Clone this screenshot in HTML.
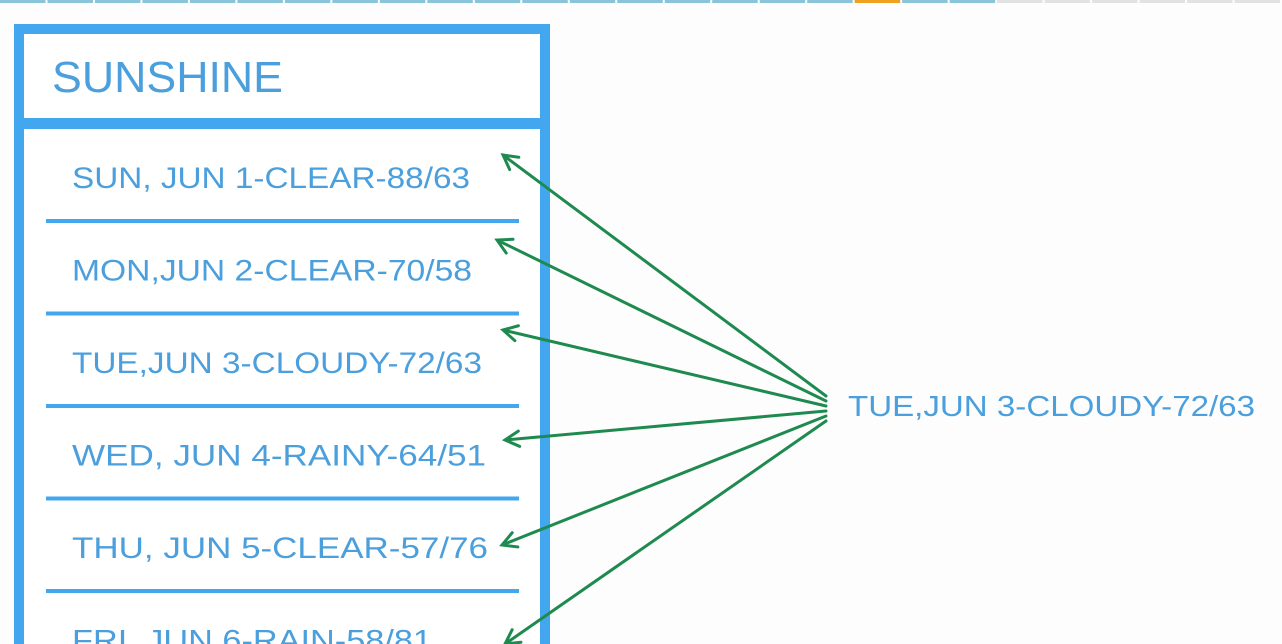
<!DOCTYPE html>
<html><head><meta charset="utf-8"><style>
html,body{margin:0;padding:0;background:#fdfdfd;width:1282px;height:644px;overflow:hidden}
svg{display:block}
text{font-family:"Liberation Sans",sans-serif;fill:#4a9fdc}
</style></head><body>
<svg width="1282" height="644" viewBox="0 0 1282 644">
<g id="progress"></g>
<rect x="19" y="29" width="526" height="640" fill="#fff" stroke="#42a7ee" stroke-width="10"/>
<rect x="19" y="118" width="526" height="11" fill="#42a7ee"/>
<text x="52" y="92" font-size="44" textLength="231" lengthAdjust="spacingAndGlyphs">SUNSHINE</text>
<g id="rows"></g>
<g id="arrows"></g>
<text x="848" y="416" font-size="29" textLength="407" lengthAdjust="spacingAndGlyphs">TUE,JUN 3-CLOUDY-72/63</text>
</svg>
<script>
const rowLabels=["SUN, JUN 1-CLEAR-88/63","MON,JUN 2-CLEAR-70/58","TUE,JUN 3-CLOUDY-72/63","WED, JUN 4-RAINY-64/51","THU, JUN 5-CLEAR-57/76","FRI, JUN 6-RAIN-58/81"];
const rowTextEnds=[470,472,482,486,488,432];
const totalSegments=27;
const doneSegments=21;
const currentSegment=18;
const NS="http://www.w3.org/2000/svg";
const prog=document.getElementById('progress');
for(let i=0;i<totalSegments;i++){
  const r=document.createElementNS(NS,'rect');
  const w=1282/totalSegments;
  r.setAttribute('x',i*w);r.setAttribute('y',0);r.setAttribute('width',w-2);r.setAttribute('height',3);
  r.setAttribute('fill',i===currentSegment?'#f0a020':(i<doneSegments?'#8ac4d8':'#e2e2e2'));
  
  
  prog.appendChild(r);
}
const tipX=[503,497,503,505,502,505];
const tipY=[155,240,330,440,545,644];
const rows=document.getElementById('rows'),arrows=document.getElementById('arrows');
const rowY=i=>188+i*92.5;
rowLabels.forEach((lab,i)=>{
  const t=document.createElementNS(NS,'text');
  t.setAttribute('x',72);t.setAttribute('y',rowY(i));t.setAttribute('font-size',30);
  t.setAttribute('textLength',rowTextEnds[i]-72);t.setAttribute('lengthAdjust','spacingAndGlyphs');
  t.textContent=lab;
  
  
  rows.appendChild(t);
  if(i<5){
    const l=document.createElementNS(NS,'rect');
    l.setAttribute('x',46);l.setAttribute('y',rowY(i)+31);l.setAttribute('width',473);l.setAttribute('height',4);l.setAttribute('fill','#42a7ee');
    
    
    rows.appendChild(l);
  }
  const tx=tipX[i], ty=tipY[i];
  const sy=396+i*5, sx=826;
  const g=document.createElementNS(NS,'g');
  
  
  const ang=Math.atan2(sy-ty,sx-tx);
  const hx1=tx+16*Math.cos(ang+0.5),hy1=ty+16*Math.sin(ang+0.5),hx2=tx+16*Math.cos(ang-0.5),hy2=ty+16*Math.sin(ang-0.5);
  const p=document.createElementNS(NS,'path');
  p.setAttribute('d',`M${sx},${sy}L${tx},${ty}M${hx1},${hy1}L${tx},${ty}L${hx2},${hy2}`);
  p.setAttribute('stroke','#1f8a4f');p.setAttribute('stroke-width',3);p.setAttribute('fill','none');p.setAttribute('stroke-linecap','round');
  g.appendChild(p);arrows.appendChild(g);
});
</script>
</body></html>
